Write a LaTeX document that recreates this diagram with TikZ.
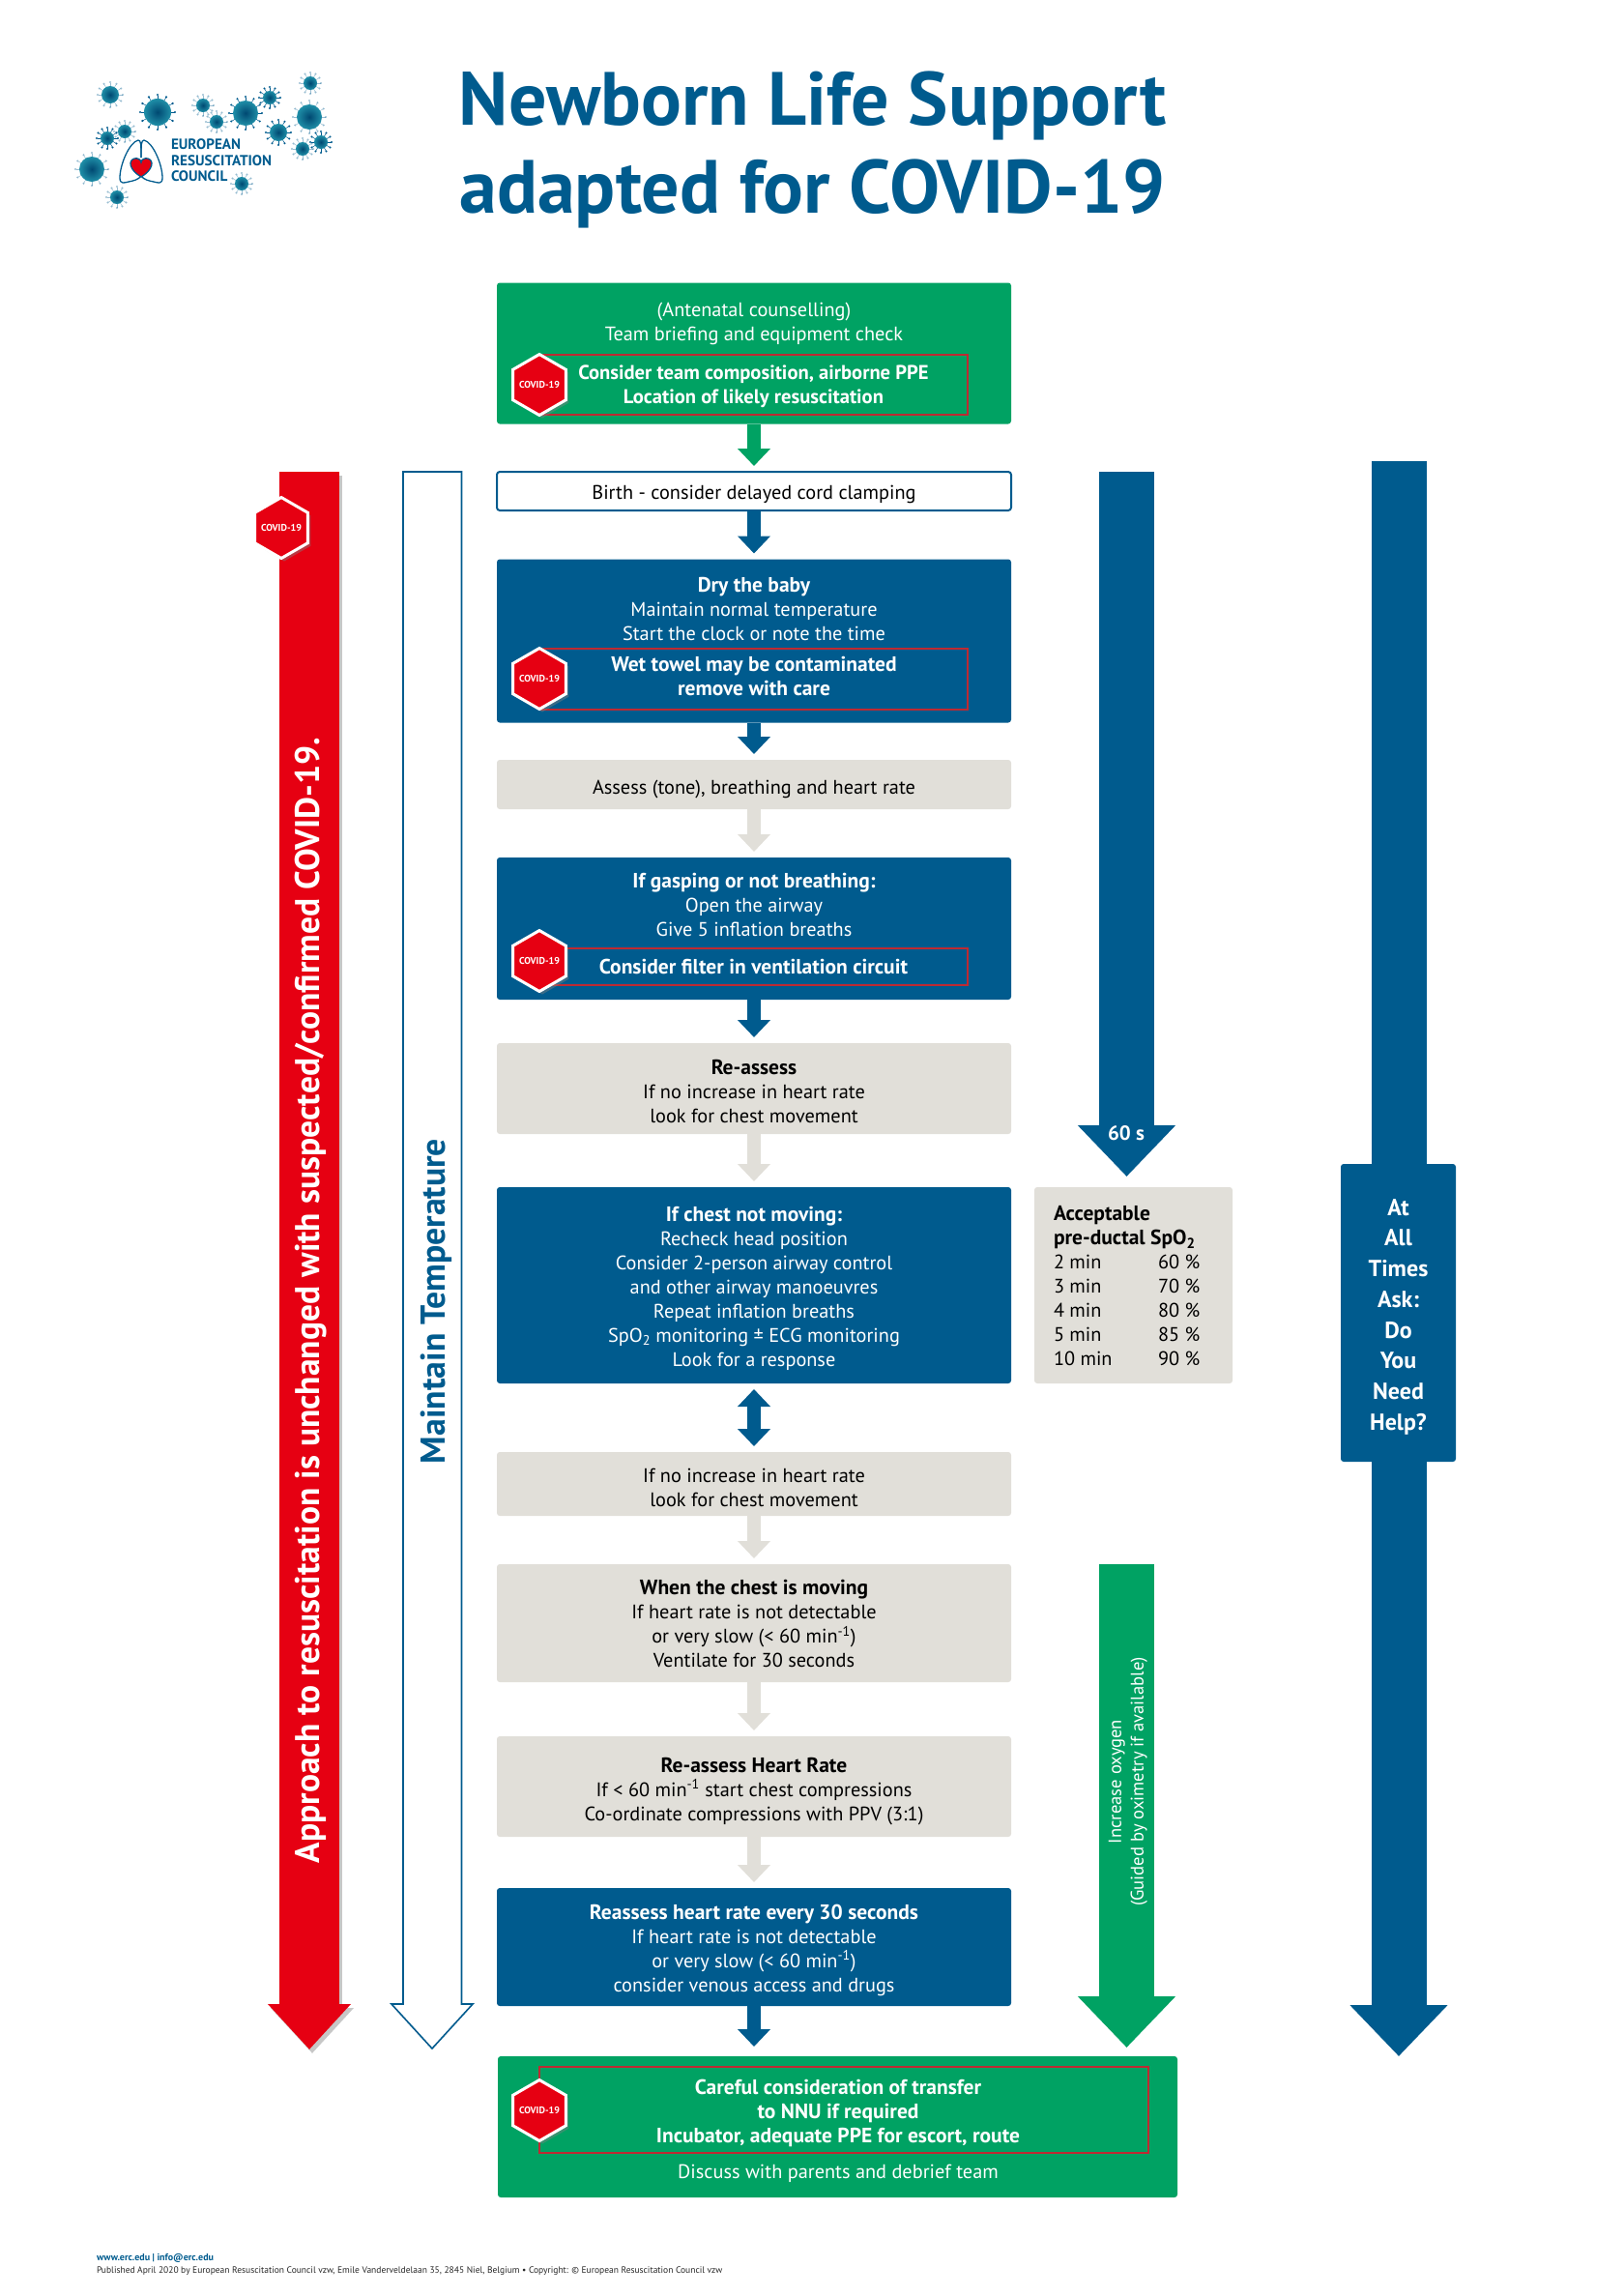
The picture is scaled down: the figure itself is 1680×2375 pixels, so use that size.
\documentclass[tikz,border=0pt]{standalone}
\usepackage{fontspec}
\setmainfont{PT Sans}
\usetikzlibrary{arrows.meta,shapes.geometric,shadows}
\definecolor{ercblue}{HTML}{005B8E}
\definecolor{ercgreen}{HTML}{00A263}
\definecolor{ercred}{HTML}{E60012}
\definecolor{ercgrey}{HTML}{E1DFD9}
\definecolor{ercframe}{HTML}{BE2A32}
\definecolor{ercteal}{HTML}{1F8FA8}
\newcommand{\hd}[1]{{\fontsize{21.5}{25}\selectfont\bfseries #1}}
\newcommand{\covidtag}{\makebox[0pt]{COVID-19}}
\tikzset{
    every node/.style={font=\fontsize{20.3}{25}\selectfont, inner sep=0pt, outer sep=0pt, align=center},
    flowbox/.style={rectangle, rounded corners=3pt, minimum width=532pt},
    bluebox/.style={flowbox, fill=ercblue, text=white},
    greenbox/.style={flowbox, fill=ercgreen, text=white},
    greybox/.style={flowbox, fill=ercgrey, text=black},
    framebox/.style={rectangle, draw=ercframe, line width=1.5pt, text=white},
    boldtext/.style={text=white, font=\fontsize{21.5}{25}\selectfont\bfseries},
    textdown/.style={execute at begin node={\rule{0pt}{#1}}},
    covid/.style={regular polygon, regular polygon sides=6, regular polygon rotate=30, minimum size=63pt, fill=ercred, draw=white, line width=3pt, text=white,
        font=\fontsize{10}{11}\selectfont\bfseries, drop shadow={shadow xshift=3pt, shadow yshift=-3pt, opacity=.45}},
    link/.style={line width=14pt, shorten >=6pt, -{Triangle[length=18pt,width=33pt]}},
    bigarrow/.style={line width=57pt, -{Triangle[length=53pt,width=98pt]}},
}
\begin{document}
\begin{tikzpicture}[x=1pt,y=-1pt]
        \useasboundingbox (0,0) rectangle (1680,2375);

        % logo
        \foreach \vx/\vy/\vr/\vo in {114/98/9/.4,163/116/14/1,210/109/7/.4,224/126/7/.4,254/117/13/1,279/101/7/1,321/86/7/.4,320/121/13/.4,288/137/9/1,332/147/7/1,313/154/7/.4,111/143/7/1,129/136/7/.4,95/175/13/.4,121/204/7/.4,250/190/7/.4} {
            \foreach \va in {0,30,...,330} {
                \draw[ercblue, opacity=\vo, line width=.5pt] (\vx,\vy) -- ++(\va:\vr+3.5);
                \fill[ercblue, opacity=\vo] (\vx,\vy) ++(\va:\vr+4) circle[radius=1.2];
            }
            \shade[inner color=ercblue!80!black, outer color=ercteal] (\vx,\vy) circle[radius=\vr];
        }
        \draw[ercblue, line width=1.3pt] (143,145) .. controls (134,147) and (124,170) .. (124,184) .. controls (124,191) and (129,189) .. (133,188) .. controls (138,187) and (143,186) .. (146,182)
            .. controls (149,186) and (154,187) .. (159,188) .. controls (163,189) and (168,191) .. (168,184) .. controls (168,170) and (158,147) .. (149,145) .. controls (146,145) and (146,150) .. (146,163);
        \draw[ercblue, line width=1.3pt] (143,145) .. controls (146,145) and (146,150) .. (146,163);
        \fill[ercred, draw=ercblue, line width=1.3pt] (146,183) .. controls (134,176) and (132,166) .. (139,164) .. controls (142,163) and (146,165) .. (146,168)
            .. controls (146,165) and (150,163) .. (153,164) .. controls (160,166) and (158,176) .. (146,183) -- cycle;
        \node[anchor=west, text=ercblue, align=left, font=\fontsize{15.2}{16.5}\selectfont\bfseries] at (177,166) (logotext) {EUROPEAN\\RESUSCITATION\\COUNCIL};

        % title
        \node[text=ercblue, font=\fontsize{78}{91}\selectfont\bfseries] at (840.5,155) (title) {Newborn Life Support\\adapted for COVID-19};

        % long arrows
        \coordinate (redtop) at (320,488);
        \coordinate (redtip) at (320,2120);
        \coordinate (timetop) at (1447,477);
        \coordinate (timetip) at (1447,2127);
        \coordinate (sixtytop) at (1165.5,488);
        \coordinate (sixtytip) at (1165.5,1217);
        \coordinate (oxytop) at (1165.5,1618);
        \coordinate (oxytip) at (1165.5,2118);

        \draw[bigarrow, line width=62pt, black!22, -{Triangle[length=47pt,width=83pt]}] ([xshift=3pt,yshift=-4pt]redtop) -- ([xshift=3pt,yshift=-4pt]redtip);
        \draw[bigarrow, line width=62pt, ercred, -{Triangle[length=47pt,width=83pt]}] (redtop) -- (redtip);
        \draw[bigarrow, ercblue] (timetop) -- (timetip);
        \draw[bigarrow, ercblue] (sixtytop) -- (sixtytip);
        \draw[bigarrow, ercgreen] (oxytop) -- (oxytip);
        \draw[ercblue, line width=1.6pt, fill=white, line join=miter] (417,488) -- (477.5,488) -- (477.5,2073) -- (489,2073) -- (447,2119) -- (405,2073) -- (417,2073) -- cycle;

        \node[rotate=90, text=white, font=\fontsize{35.5}{40}\selectfont\bfseries] at (322,1345) (redlabel) {Approach to resuscitation is unchanged with suspected/confirmed COVID-19.};
        \node[rotate=90, text=ercblue, font=\fontsize{35.7}{40}\selectfont\bfseries] at (451,1346) (templabel) {Maintain Temperature};
        \node[text=white, font=\fontsize{21}{25}\selectfont\bfseries] at (1165,1172) (sixty) {60 s};
        \node[rotate=90, text=white, font=\fontsize{18.6}{23}\selectfont] at (1167,1843) (oxylabel) {Increase oxygen\\(Guided by oximetry if available)};
        \node[covid] at (291,546) (covidred) {\covidtag};

        % flow boxes
        \node[greenbox, minimum height=146pt] at (780,365.5) (brief) {};
        \node[text=white] at (780,334.5) (brieftext) {(Antenatal counselling)\\Team briefing and equipment check};
        \node[framebox, minimum width=443pt, minimum height=62pt, textdown=43pt, font=\fontsize{20.6}{25}\selectfont\bfseries] at (779.5,398) (brieffrm) {Consider team composition, airborne PPE\\Location of likely resuscitation};
        \node[covid] at (558,398) (covida) {\covidtag};

        \node[flowbox, draw=ercblue, line width=2pt, fill=white, minimum height=40pt, textdown=22pt] at (780,508) (birth) {Birth - consider delayed cord clamping};

        \node[bluebox, minimum height=169pt] at (780,663) (dry) {};
        \node[text=white] at (780,630) (drytext) {\hd{Dry the baby}\\Maintain normal temperature\\Start the clock or note the time};
        \node[framebox, minimum width=443pt, minimum height=63pt] at (779.5,702.5) (dryfrm) {};
        \node[boldtext] at (780,699.5) (wettext) {Wet towel may be contaminated\\remove with care};
        \node[covid] at (558,702) (covidb) {\covidtag};

        \node[greybox, minimum height=51pt, textdown=25pt] at (780,811.5) (assess) {Assess (tone), breathing and heart rate};

        \node[bluebox, minimum height=147pt] at (780,960.5) (gasp) {};
        \node[text=white] at (780,935.5) (gasptext) {\hd{If gasping or not breathing:}\\Open the airway\\Give 5 inflation breaths};
        \node[framebox, minimum width=443pt, minimum height=38pt, font=\fontsize{21.5}{25}\selectfont\bfseries] at (779.5,1000) (gaspfrm) {Consider filter in ventilation circuit};
        \node[covid] at (558,994) (covidc) {\covidtag};

        \node[greybox, minimum height=94pt, textdown=71pt] at (780,1126) (reassess) {\hd{Re-assess}\\If no increase in heart rate\\look for chest movement};

        \node[bluebox, minimum height=203pt, textdown=172pt] at (780,1329.5) (chest) {\hd{If chest not moving:}\\Recheck head position\\Consider 2-person airway control\\and other airway manoeuvres\\Repeat inflation breaths\\SpO\textsubscript{2} monitoring ± ECG monitoring\\Look for a response};

        \node[greybox, minimum height=66pt, textdown=47pt] at (780,1535) (noinc) {If no increase in heart rate\\look for chest movement};

        \node[greybox, minimum height=122pt, textdown=92pt] at (780,1679) (moving) {\hd{When the chest is moving}\\If heart rate is not detectable\\or very slow (< 60 min\textsuperscript{-1})\\Ventilate for 30 seconds};

        \node[greybox, minimum height=104pt, textdown=75pt] at (780,1848) (heart) {\hd{Re-assess Heart Rate}\\If < 60 min\textsuperscript{-1} start chest compressions\\Co-ordinate compressions with PPV (3:1)};

        \node[bluebox, minimum height=122pt, textdown=97pt] at (780,2014) (drugs) {\hd{Reassess heart rate every 30 seconds}\\If heart rate is not detectable\\or very slow (< 60 min\textsuperscript{-1})\\consider venous access and drugs};

        \node[greenbox, minimum width=703pt, minimum height=146pt] at (866.5,2200) (transfer) {};
        \node[framebox, minimum width=630pt, minimum height=89pt] at (873,2182.5) (transfrm) {};
        \node[boldtext] at (867,2186) (transtext) {Careful consideration of transfer\\to NNU if required\\Incubator, adequate PPE for escort, route};
        \node[text=white] at (867,2248.5) (debrief) {Discuss with parents and debrief team};
        \node[covid] at (558,2183) (covidd) {\covidtag};

        % side boxes
        \node[greybox, minimum width=205pt, minimum height=203pt] at (1172.5,1329.5) (spobox) {};
        \node[anchor=west, text=black, align=left] at (1090,1332.5) (spotext) {\begin{tabular}{@{}p{108pt}@{}l@{}}
            \multicolumn{2}{@{}l@{}}{\hd{Acceptable}}\\
            \multicolumn{2}{@{}l@{}}{\hd{pre-ductal SpO\textsubscript{2}}}\\
            2 min & 60 \%\\
            3 min & 70 \%\\
            4 min & 80 \%\\
            5 min & 85 \%\\
            10 min & 90 \%
        \end{tabular}};
        \node[bluebox, minimum width=119pt, minimum height=308pt, textdown=247pt, font=\fontsize{24}{31.7}\selectfont\bfseries] at (1446.5,1358) (help) {At\\All\\Times\\Ask:\\Do\\You\\Need\\Help?};

        % connectors
        \draw[link, ercgreen] (brief.south) -- (birth.north);
        \draw[link, ercblue] (birth.south) -- (dry.north);
        \draw[link, ercblue] (dry.south) -- (assess.north);
        \draw[link, ercgrey] (assess.south) -- (gasp.north);
        \draw[link, ercblue] (gasp.south) -- (reassess.north);
        \draw[link, ercgrey] (reassess.south) -- (chest.north);
        \draw[link, ercblue, shorten >=6pt, shorten <=6pt, {Triangle[length=18pt,width=33pt]}-{Triangle[length=18pt,width=33pt]}] (chest.south) -- (noinc.north);
        \draw[link, ercgrey] (noinc.south) -- (moving.north);
        \draw[link, ercgrey] (moving.south) -- (heart.north);
        \draw[link, ercgrey] (heart.south) -- (drugs.north);
        \draw[link, ercblue, shorten >=10pt] (drugs.south) -- (drugs.south |- transfer.north);

        % footer
        \node[anchor=west, text=ercblue, font=\fontsize{10}{12}\selectfont\bfseries] at (100,2336) (website) {www.erc.edu | info@erc.edu};
        \node[anchor=west, text=black!85, font=\fontsize{9.5}{12}\selectfont] at (100,2349) (imprint) {Published April 2020 by European Resuscitation Council vzw, Emile Vanderveldelaan 35, 2845 Niel, Belgium • Copyright: © European Resuscitation Council vzw};

\end{tikzpicture}
\end{document}
